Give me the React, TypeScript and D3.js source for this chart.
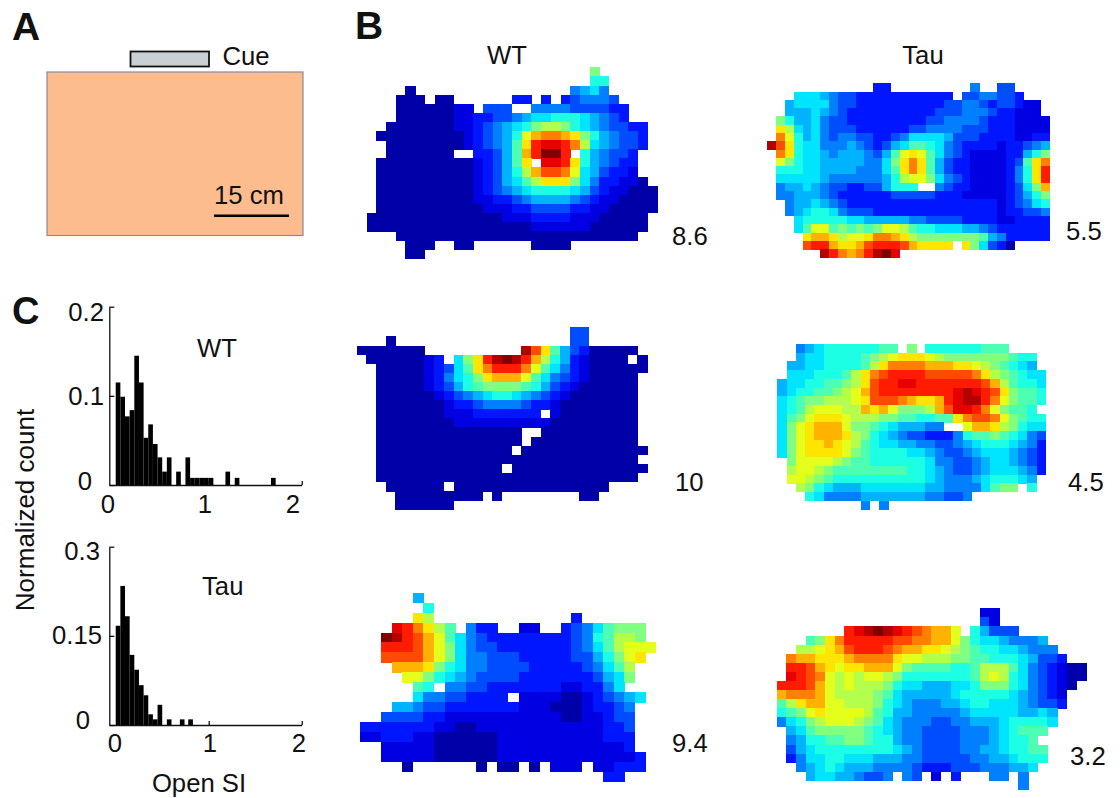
import React, { useEffect, useRef } from "react";
import * as d3 from "d3";

// Occupancy levels, one character per pixel: 0-9 then a-k (21 steps of the jet map); "." = not visited
const wtTop = [
  ".......................a......",
  ".......................88.....",
  "....1................5675.....",
  "...111.11......33.3.345554....",
  "...11111122.444..5555444433...",
  "...111111223344567788876543...",
  "..111111122345678abba87654433.",
  ".111111111234568ceffeda865443.",
  "..11111111234569dhiihfb765443.",
  "..1111111..33469ehkkh.865443..",
  ".111111111123469d.iihd865433..",
  ".111111111123468beggfc764332..",
  ".1111111111234679bddda7533221.",
  ".11111111112345678888764322111",
  ".11111111112233456666543221111",
  ".11111111111222334444332211111",
  "11111111111111222333322211111.",
  "11111111111111111222222111111.",
  "...1111111111111111111111111..",
  "....111..11......1111.........",
  "....11........................",
];

const tauTop = [
  "............33.........5..44",
  "...777654433333333333.4455443",
  "..67777544333333333344554344322",
  "..66676543333333333444555433222",
  ".a866754433333333344555543332222",
  ".db76754443333334455554443332222",
  ".fc86754554433457777644433332233",
  "jgd87755565434679987543333233456",
  ".fd877656665469cdc9754322223368a",
  ".ca87766666557adfd964332222349df",
  ".88877666655579dfd964332222358dh",
  ".77777655555568bcca75432222358dh",
  ".5667654433446888..54332222347ae",
  ".556665433333344444333222223468a",
  "..5667654" + "33333333333333333" + "2" + "34578",
  "..567" + "88" + "7" + "5" + "444" + "33333333333333" + "2" + "33" + "445",
  "...7" + "88888" + "77" + "66666" + "55" + "4444" + "3333" + "22" + "3333",
  "...79cc9a9a9accb9887776654333333",
  "....deedbccdffedb" + "aaaaaaa" + "96" + "5" + "33333",
  "....ghhedde" + "ghhhgedddd.da7431",
  "......jhfefhjki",
];

const wtMid = [
  "......................44",
  "...1..................44",
  "1111111..........jgd964311111",
  ".11111123.7adhjkjheb86321111.1",
  "..11111234" + "79dfhhhfc" + "975" + "32" + "111111",
  "..11111235" + "78adeeec" + "975432" + "11111",
  "..11111234" + "689aaaa9" + "864321" + "11111",
  "..111111" + "23" + "45678876" + "543211" + "11111",
  "..1111111" + "2" + "33455554" + "332111" + "11111",
  "..1111111" + "2" + "22333333" + "3" + "." + "2111" + "11111",
  "..11111111" + "2222222222" + "111111111",
  "..111111111111111..1111111111",
  "..111111111111111.11111111111",
  "..11111111111111.1111111111111",
  "..111111111111111111111111111",
  "..1111111111111.11111111111111",
  "..111111111111111111111111111",
  "...111111.1111111111111111",
  "....111111111.1........11",
  "....111111",
];

const tauMid = [
  "..56788888899.a.888888999",
  "..67788889abcdddcbaaaaaaa988",
  ".667788889bdffffeeeddcba9876",
  ".7778889bdfghhhhgggggfdba9877",
  "6778899abdghhiihhhhhhhgeb9887",
  "678899abceghhhhhhhhijihgda998",
  "789aabbbcdgggfeddehijjhfca998",
  "789bcccbbedecaaabegiihfca998",
  "79acdddcbbbaa998899dfggfca988",
  "7acdeeecaa98766655..ceedba877",
  "7acdeeedba8765443335899a98754",
  "7acddedcb98776655445678887653",
  "7acddddca98888776544567776543",
  ".accccba998888887554456776543",
  ".bccba99999999887654456777653",
  ".ccba98888888888765556788876",
  "..ba87666777777766555579aa.8",
  "...875555666666655445",
  ".........5.5",
];

const wtBot = [
  ".....6",
  "......8",
  ".....db.............3",
  "...ihfdb9.533..22..34579aaa",
  "..kjhgec9754333333334589bba",
  "..hhhgeca7544" + "3333333" + "4579bccc",
  "..ggggeca755" + "444" + "33333" + "446" + "8acd",
  "...eeeda8755" + "4444" + "33333" + "4579b",
  "....cca87654" + "444" + "3333333" + "467a",
  ".....98.5544" + "3333333" + "22" + "3357",
  ".....755443333.2222" + "11" + "234567",
  "...665443333333" + "222" + "111" + "23345",
  "..4444" + "33" + "22222" + "22" + "2222" + "11" + "22344",
  "3333333" + "22" + "11" + "222222222222" + "33" + "4",
  "22" + "333" + "22" + "111111" + "2222222222" + "333",
  "..22222" + "111111" + "222222222222" + "3",
  "..22222" + "111111" + "2222222222222" + "3",
  "....1......1.11.1.222.22333",
  ".......................33",
];

const tauBot = [
  ".....................22",
  ".....................42",
  ".......hijkjihgfeec.86444",
  "..." + "9adf" + "hhhhh" + "gg" + "ff" + "ee" + "c" + "a" + "8" + "77" + "6" + "555" + "6",
  ".." + "bbcde" + "g" + "hhh" + "g" + "f" + "ee" + "dd" + "c" + "b" + "a" + "9" + "88" + "77" + "6" + "555",
  "." + "fee" + "ddd" + "e" + "ffff" + "d" + "cc" + "bbb" + "aa" + "99" + "888" + "7" + "6" + "44" + "3",
  "." + "hhg" + "e" + "d" + "c" + "dd" + "eee" + "c" + "a" + "9999" + "88" + "9" + "bbb" + "9" + "7" + "5" + "4" + "3" + "2" + "1" + "1",
  "." + "ih" + "g" + "f" + "c" + "b" + "c" + "b" + "cc" + "b" + "a" + "8888888" + "9" + "b" + "c" + "b" + "8" + "7" + "5" + "4" + "3" + "2" + "1" + "1",
  "hhh" + "g" + "e" + "c" + "b" + "c" + "bbb" + "a" + "8" + "77" + "666" + "77" + "8" + "aaa" + "8" + "7" + "5" + "4" + "3" + "2" + "1",
  "efffe" + "c" + "bbbb" + "a" + "9" + "7" + "66666" + "7" + "88888" + "7" + "6" + "5" + "4" + "3" + "2",
  "9bdee" + "cc" + "bbb" + "a" + "8" + "7" + "6" + "555" + "66" + "7" + "88" + "777" + "6" + "5" + "44" + "3",
  "89acd" + "cccc" + "b" + "9" + "8" + "66" + "55555" + "6" + "77777" + "66" + "7" + "6",
  "578ab" + "ccc" + "b" + "a" + "9" + "7" + "6" + "555" + "44" + "55" + "666" + "7" + "8888" + "7",
  ".679" + "aaaaa" + "9" + "8" + "7" + "6" + "55" + "4444" + "555" + "6" + "7" + "8" + "999",
  ".5688" + "99" + "aa" + "9" + "88" + "6" + "55" + "4444" + "555" + "6" + "7" + "88" + "9",
  ".467" + "88888888" + "7" + "6" + "5" + "4444" + "55" + "66" + "7" + "88" + "99",
  ".3577" + "88" + "777" + "666" + "55" + "44444" + "55" + "66" + "7" + "888",
  ".." + "5678" + "7" + "666" + "5555" + "4" + "333" + "444" + "555" + "66" + "7",
  "..." + "677665445" + "." + "54" + "." + "2" + "." + "3" + "..." + "55" + "." + "5",
  ".........................5",
];

const scoreLabels = ["8.6", "5.5", "10", "4.5", "9.4", "3.2"];

// Panel C histograms: left bin edge (Open SI) and normalized count
const wtEdges = [0, 0.05, 0.1, 0.15, 0.2, 0.25, 0.3, 0.35, 0.4, 0.45, 0.5, 0.55, 0.65, 0.75, 0.8, 0.85, 0.9, 0.95, 1.0, 1.18, 1.28, 1.67];
const wtCounts = [0.115, 0.099, 0.077, 0.084, 0.145, 0.115, 0.053, 0.068, 0.046, 0.031, 0.015, 0.031, 0.015, 0.031, 0.008, 0.008, 0.008, 0.008, 0.008, 0.015, 0.008, 0.008];
const tauEdges = [0, 0.05, 0.1, 0.15, 0.2, 0.25, 0.3, 0.35, 0.4, 0.45, 0.55, 0.69, 0.78];
const tauCounts = [0.167, 0.234, 0.183, 0.118, 0.093, 0.067, 0.05, 0.018, 0.0095, 0.034, 0.0095, 0.0095, 0.0095];

const FONT = "'Liberation Sans', Arial, sans-serif";
const jet = d3
  .scaleLinear<string>()
  .domain([0, 0.125, 0.375, 0.625, 0.875, 1])
  .range(["#000070", "#0000ff", "#00ffff", "#ffff00", "#ff0000", "#800000"]);

function Heat({ rows, x0, y0, cw, ch }: { rows: string[]; x0: number; y0: number; cw: number; ch: number }) {
  const nCols = d3.max(rows, (r) => r.length) as number;
  const x = d3.scaleLinear().domain([0, nCols]).range([x0, x0 + nCols * cw]);
  const y = d3.scaleLinear().domain([0, rows.length]).range([y0, y0 + rows.length * ch]);
  return (
    <g shapeRendering="crispEdges" filter="url(#soft)">
      {rows.flatMap((r, j) =>
        r.split("").map((c, i) =>
          c === "." ? null : (
            <rect key={j + "-" + i} x={x(i)} y={y(j)} width={x(i + 1) - x(i) + 0.4} height={y(j + 1) - y(j) + 0.4} fill={jet(parseInt(c, 21) / 20)} />
          )
        )
      )}
    </g>
  );
}

function Hist({ edges, counts, yMax, yTicks, top, base }: { edges: number[]; counts: number[]; yMax: number; yTicks: number[]; top: number; base: number }) {
  const gx = useRef<SVGGElement>(null);
  const gy = useRef<SVGGElement>(null);
  const x = d3.scaleLinear().domain([-0.07, 2]).range([109.2, 301.7]);
  const y = d3.scaleLinear().domain([0, yMax]).range([base, top]);
  useEffect(() => {
    const ax = d3.axisBottom(x).tickValues([1, 2]).tickSizeInner(-4).tickSizeOuter(0).tickFormat(() => "");
    const ay = d3.axisLeft(y).tickValues(yTicks).tickSizeInner(-5).tickSizeOuter(0).tickFormat(() => "");
    d3.select(gx.current as SVGGElement).call(ax as any).selectAll("path,line").attr("stroke", "#111").attr("stroke-width", 1.3);
    d3.select(gy.current as SVGGElement).call(ay as any).selectAll("path,line").attr("stroke", "#111").attr("stroke-width", 1.3);
  }, []);
  return (
    <g>
      {edges.map((e, i) => (
        <rect key={i} x={x(e)} y={y(counts[i])} width={x(e + 0.05) - x(e)} height={base - y(counts[i])} fill="#000" />
      ))}
      <g ref={gx} transform={`translate(0,${base})`} />
      <g ref={gy} transform="translate(109.3,0)" />
    </g>
  );
}

function T({ x, y, s, a = "start", size = 25.7, w = 400 }: { x: number; y: number; s: string; a?: string; size?: number; w?: number }) {
  return (
    <text x={x} y={y} textAnchor={a as any} fontSize={size} fontWeight={w} fontFamily={FONT} fill="#111">
      {s}
    </text>
  );
}

export default function App() {
  return (
    <svg width={1120} height={798} style={{ position: "absolute", left: 0, top: 0, background: "#fff" }}>
      <defs>
        <filter id="soft" x="-5%" y="-5%" width="110%" height="110%">
          <feGaussianBlur stdDeviation="0.7" />
        </filter>
      </defs>
      <T x={12} y={40} s="A" size={39} w={700} />
      <T x={355} y={39} s="B" size={39} w={700} />
      <T x={12} y={324} s="C" size={38} w={700} />

      <rect x={47} y={72} width={256} height={163.5} fill="#fdbc8e" stroke="#8c8c8c" strokeWidth={1.2} />
      <rect x={130.5} y={51.5} width={78.5} height={15} fill="#c9d0d3" stroke="#111" strokeWidth={1.8} />
      <T x={222.5} y={65} s="Cue" />
      <T x={214} y={204} s="15 cm" />
      <line x1={214} x2={289} y1={215.7} y2={215.7} stroke="#000" strokeWidth={2.5} />

      <T x={507} y={64} s="WT" a="middle" />
      <T x={923} y={64} s="Tau" a="middle" />

      <Heat rows={wtTop} x0={366.7} y0={67.3} cw={9.69} ch={9.1} />
      <Heat rows={tauTop} x0={767.3} y0={83.3} cw={8.83} ch={8.29} />
      <Heat rows={wtMid} x0={356.7} y0={327.3} cw={9.68} ch={9.1} />
      <Heat rows={tauMid} x0={777.3} y0={344} cw={9.26} ch={8.7} />
      <Heat rows={wtBot} x0={360} y0={592.7} cw={10.57} ch={9.95} />
      <Heat rows={tauBot} x0={776.7} y0={608.3} cw={9.67} ch={9.08} />

      <T x={672} y={245} s={scoreLabels[0]} />
      <T x={1066} y={240} s={scoreLabels[1]} />
      <T x={675} y={491} s={scoreLabels[2]} />
      <T x={1068} y={491} s={scoreLabels[3]} />
      <T x={672} y={752} s={scoreLabels[4]} />
      <T x={1070} y={765} s={scoreLabels[5]} />

      <Hist edges={wtEdges} counts={wtCounts} yMax={0.2} yTicks={[0, 0.1, 0.2]} top={306.7} base={485} />
      <Hist edges={tauEdges} counts={tauCounts} yMax={0.3} yTicks={[0, 0.15, 0.3]} top={546.7} base={725} />

      <T x={104} y={321} s="0.2" a="end" />
      <T x={104} y={405} s="0.1" a="end" />
      <T x={92} y={490} s="0" a="end" />
      <T x={108} y={513} s="0" a="middle" />
      <T x={205} y={513} s="1" a="middle" />
      <T x={293} y={513} s="2" a="middle" />
      <T x={197} y={356.5} s="WT" />

      <T x={100} y={560} s="0.3" a="end" />
      <T x={102} y={644} s="0.15" a="end" />
      <T x={90} y={729} s="0" a="end" />
      <T x={115} y={752} s="0" a="middle" />
      <T x={210} y={752} s="1" a="middle" />
      <T x={299} y={752} s="2" a="middle" />
      <T x={202} y={595} s="Tau" />
      <T x={199} y={792} s="Open SI" a="middle" />
      <g transform="translate(34,510) rotate(-90)">
        <T x={0} y={0} s="Normalized count" a="middle" size={26} />
      </g>
    </svg>
  );
}
